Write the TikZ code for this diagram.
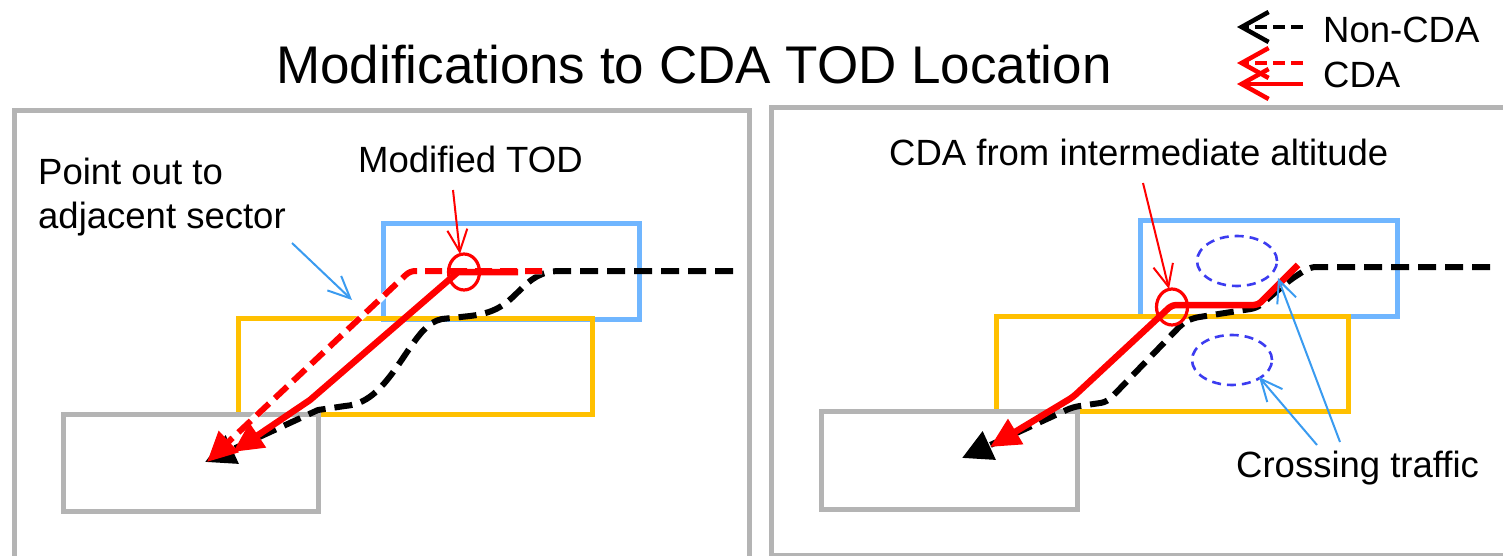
\documentclass[tikz,border=0pt]{standalone}
\usepackage{fontspec}
\setmainfont{Liberation Sans}
\usetikzlibrary{arrows.meta,shapes.geometric}

\definecolor{panelgray}{RGB}{180,180,180}
\definecolor{sectorblue}{RGB}{112,182,255}
\definecolor{sectoryellow}{RGB}{255,192,0}
\definecolor{trafficblue}{RGB}{60,60,240}
\definecolor{pointerblue}{RGB}{58,155,240}
\definecolor{cdared}{RGB}{255,0,0}

\begin{document}
\begin{tikzpicture}[x=1pt,y=-1pt,
  panel/.style={draw=panelgray,line width=5pt},
  sectorbox/.style={line width=5pt},
  txt/.style={inner sep=0pt,anchor=base west,font=\fontsize{36.5}{43}\selectfont},
  noncda/.style={line width=6pt,dash pattern=on 18pt off 9pt,
    -{Triangle[length=30pt,width=30pt]}},
  cdadash/.style={cdared,line width=6pt,dash pattern=on 17pt off 8pt,
    -{Triangle[length=30pt,width=28pt]}},
  cdasolid/.style={cdared,line width=6.5pt,line join=round,
    -{Triangle[length=30pt,width=28pt]}},
  callout/.style={line width=2pt,-{Straight Barb[length=22pt,width=20pt]}},
  todmark/.style={ellipse,draw=cdared,line width=3.2pt,inner sep=0pt,
    minimum width=31pt,minimum height=36pt},
  traffic/.style={ellipse,draw=trafficblue,line width=2.6pt,
    dash pattern=on 9pt off 6pt,inner sep=0pt,minimum width=80pt,minimum height=50pt},
  legtip/.style={line width=4.5pt,-{Straight Barb[length=27pt,width=30pt]}}
]
\useasboundingbox (0,0) rectangle (1503,556);
\clip (0,0) rectangle (1503,556);

% title and legend
\node[inner sep=0pt,anchor=base,font=\fontsize{53}{60}\selectfont] (title) at (694,84)
  {Modifications to CDA TOD Location};
\node[txt] (legnon) at (1323,43) {Non-CDA};
\node[txt] (legcda) at (1323,88) {CDA};
\coordinate (l1a) at (1303,27); \coordinate (l1b) at (1237,27);
\coordinate (l2a) at (1303,63); \coordinate (l2b) at (1237,63);
\coordinate (l3a) at (1303,84); \coordinate (l3b) at (1237,84);
\draw[legtip,dash pattern=on 12pt off 6pt] (l1a) -- (l1b);
\draw[legtip,cdared,dash pattern=on 12pt off 6pt] (l2a) -- (l2b);
\draw[legtip,cdared] (l3a) -- (l3b);

% panels
\draw[panel] (14,111) rectangle (749,580);
\draw[panel] (771,108) rectangle (1520,555);

% ---------------- left panel ----------------
\draw[sectorbox,draw=sectorblue] (383,223) rectangle (639,319);
\draw[sectorbox,draw=sectoryellow] (238,318) rectangle (592,414);
\draw[panel] (63,414) rectangle (318,511);

% standard descent
\draw[noncda] (733,271) -- (560,271)
  .. controls (540,271) and (530,280) .. (518,292)
  .. controls (505,305) and (495,313) .. (470,316) -- (442,319)
  .. controls (428,322) and (420,333) .. (405,355)
  .. controls (385,385) and (370,404) .. (345,406) -- (318,410) -- (205,462);
% descent after point out
\draw[white,line width=6.5pt] (542,271) -- (410,271) -- (225,445);
\draw[cdadash,rounded corners=5pt] (542,271) -- (410,271) -- (207,462);
% CDA from the modified TOD
\draw[cdasolid] (518,272) -- (458,272) -- (310,400) -- (233,452);
\node[todmark] (todL) at (464,272) {};

\node[txt] (pointout1) at (38,185) {Point out to};
\node[txt] (pointout2) at (38,228) {adjacent sector};
\node[txt] (modtod) at (358,173) {Modified TOD};
\coordinate (poFrom) at (292,243); \coordinate (poTo) at (352,300);
\coordinate (mtFrom) at (453,190); \coordinate (mtTo) at (460,254);
\draw[callout,pointerblue] (poFrom) -- (poTo);
\draw[callout,cdared] (mtFrom) -- (mtTo);

% ---------------- right panel ----------------
\draw[sectorbox,draw=sectorblue] (1140,220) rectangle (1397,316);
\draw[sectorbox,draw=sectoryellow] (996,316) rectangle (1348,411);
\draw[panel] (821,411) rectangle (1077,509);

\node[traffic] (trafA) at (1237,261) {};
\node[traffic] (trafB) at (1232,360) {};

\draw[noncda,rounded corners=6pt] (1490,267) -- (1310,267) -- (1290,280) -- (1257,308)
  -- (1193,318) -- (1183,323) -- (1107,402) -- (1073,407) -- (962,458);
\draw[cdasolid,rounded corners=4pt] (1298,265) -- (1258,305) -- (1172,305) -- (1073,397) -- (990,447);
\node[todmark] (todR) at (1172,307) {};

\node[txt] (cdaint) at (889,166) {CDA from intermediate altitude};
\node[txt] (crossing) at (1236,477) {Crossing traffic};
\coordinate (ciFrom) at (1143,183); \coordinate (ciTo) at (1169,289);
\coordinate (c1From) at (1317,445); \coordinate (c1To) at (1259,377);
\coordinate (c2From) at (1340,442); \coordinate (c2To) at (1278,278);
\draw[callout,cdared] (ciFrom) -- (ciTo);
\draw[callout,pointerblue] (c1From) -- (c1To);
\draw[callout,pointerblue] (c2From) -- (c2To);
\end{tikzpicture}
\end{document}
